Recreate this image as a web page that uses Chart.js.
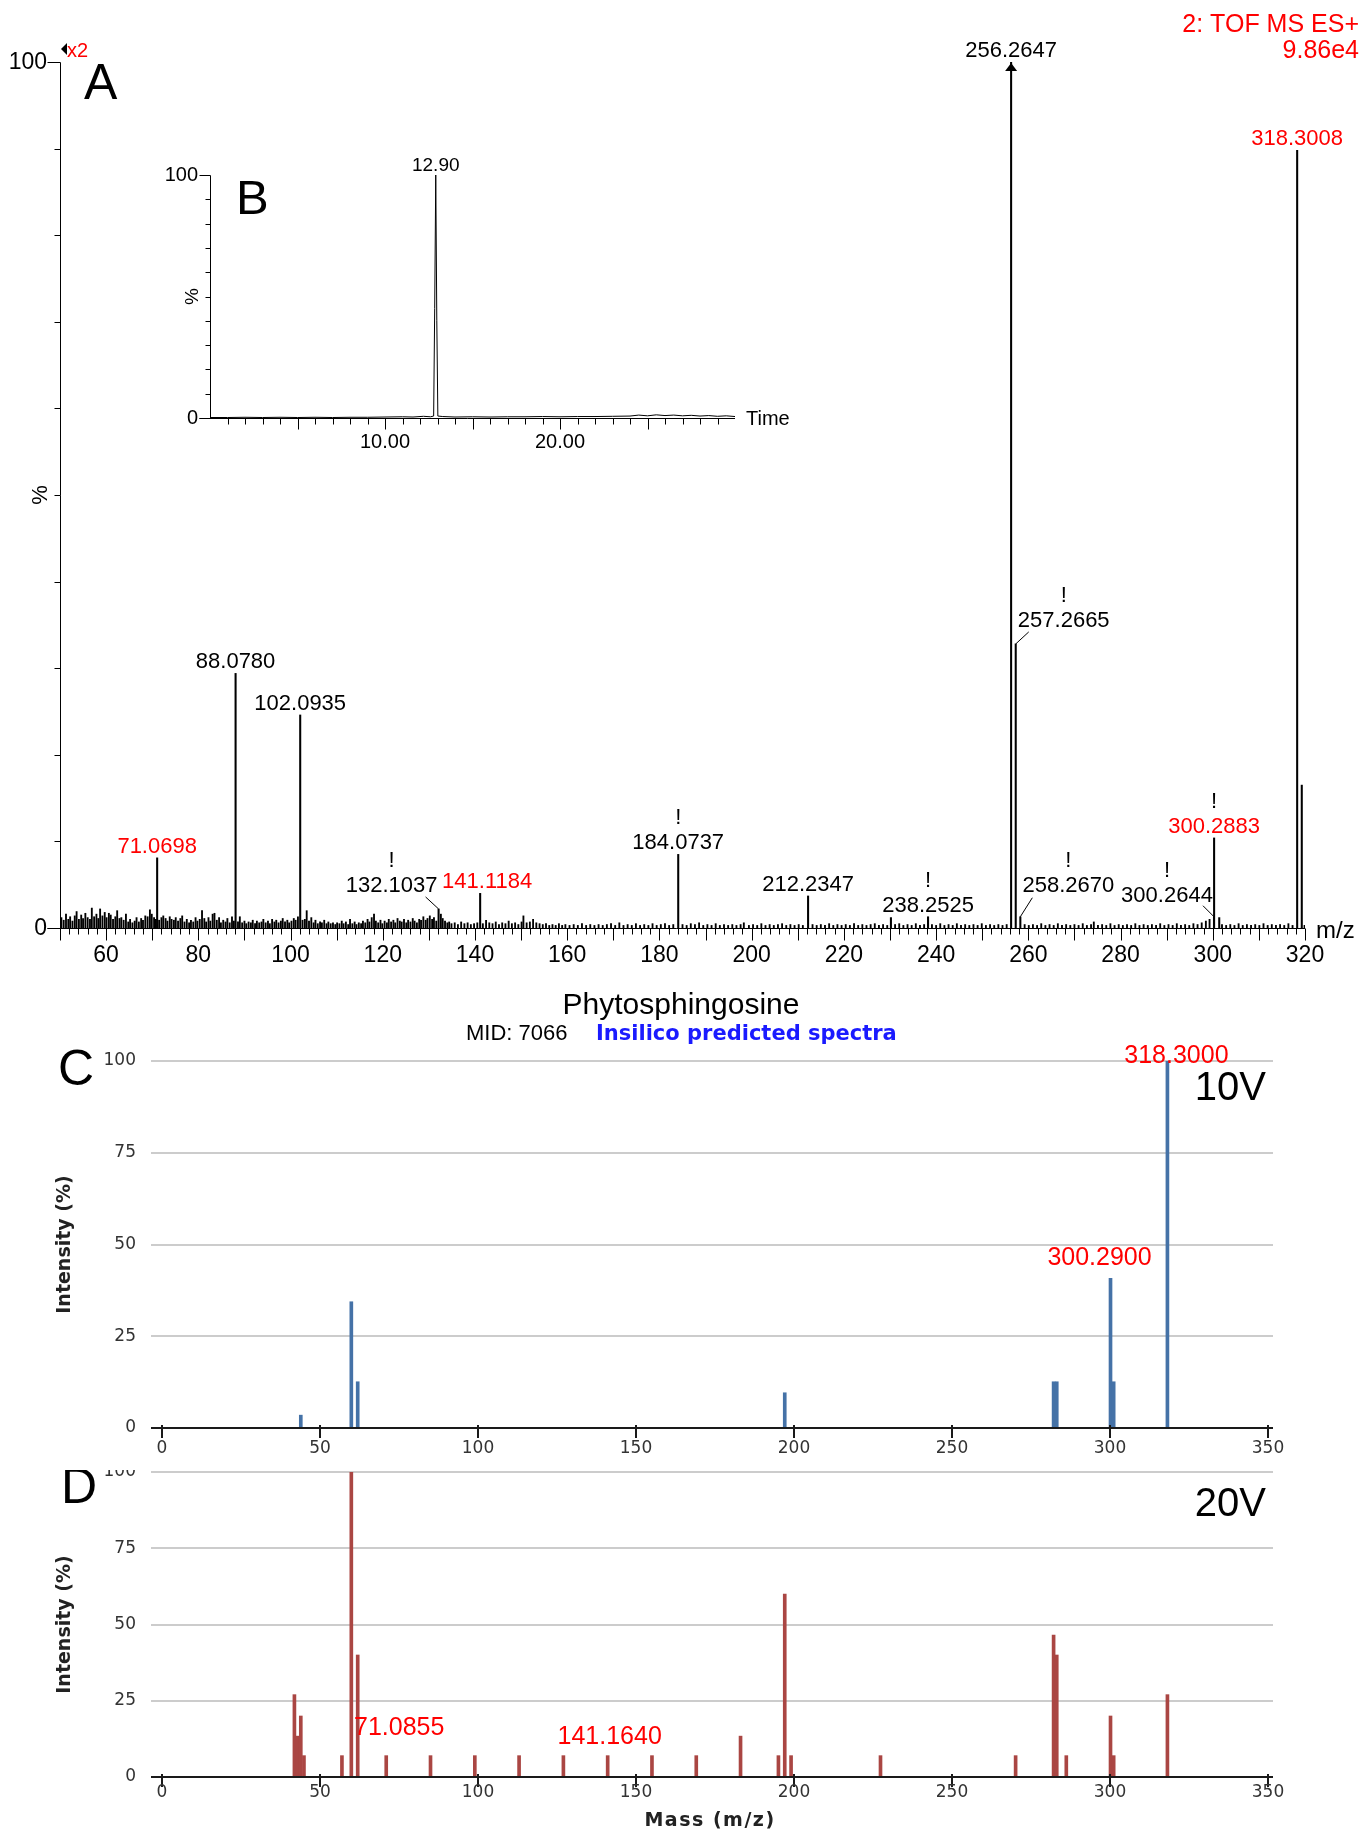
<!DOCTYPE html>
<html><head><meta charset="utf-8">
<script src="https://cdn.jsdelivr.net/npm/chart.js@4.4.1/dist/chart.umd.min.js"></script>
<style>
html,body{margin:0;padding:0;background:#fff;}
body{width:1366px;height:1832px;position:relative;overflow:hidden;}
canvas{position:absolute;}
</style></head><body>
<canvas id="cA" style="left:0px;top:0px" width="1366" height="965"></canvas>
<canvas id="cB" style="left:0px;top:0px" width="800" height="470"></canvas>
<canvas id="cC" style="left:0px;top:975px" width="1366" height="490"></canvas>
<canvas id="cD" style="left:0px;top:1470px" width="1366" height="362"></canvas>
<script>
// ---------------- DATA ----------------
// Panel A: labelled / major peaks (m/z, % of full scale)
const aPeakMz  = [71.0698, 88.0780, 102.0935, 132.1037, 141.1184, 184.0737, 212.2347, 230.2, 238.2525, 256.2647, 257.2665, 258.2670, 300.2644, 300.2883, 301.4, 318.3008, 319.3];
const aPeakInt = [8.1, 29.4, 24.6, 2.2, 4.0, 8.5, 3.7, 1.2, 1.3, 100, 32.8, 1.3, 1.3, 10.4, 1.2, 89.8, 16.5];
// Panel A: baseline noise spikes [m/z, %]
const aNoise = [[50.3,1.2],[50.8,0.9],[51.3,1.6],[51.8,1.0],[52.2,1.3],[52.7,0.8],[53.2,1.4],[53.6,1.9],[54.1,1.0],[54.6,1.5],[55.0,1.1],[55.5,1.7],[56.0,1.2],[56.5,1.0],[56.9,2.3],[57.4,1.3],[57.9,1.6],[58.3,1.1],[58.7,2.2],[59.2,1.4],[59.7,1.8],[60.1,1.2],[60.6,1.7],[61.0,1.5],[61.5,1.0],[62.0,1.3],[62.4,2.0],[62.9,1.1],[63.3,1.2],[63.8,0.9],[64.3,1.6],[64.8,0.7],[65.2,1.0],[65.7,0.6],[66.2,0.8],[66.6,1.2],[67.1,0.7],[67.6,1.1],[68.0,0.9],[68.5,1.4],[69.0,1.3],[69.5,2.1],[69.9,1.6],[70.4,1.2],[70.8,1.0],[71.5,0.9],[72.0,1.2],[72.4,1.4],[72.9,1.1],[73.3,0.8],[73.8,1.3],[74.2,1.0],[74.7,0.9],[75.1,1.2],[75.6,0.8],[76.1,1.1],[76.5,1.4],[77.0,0.7],[77.5,1.0],[78.0,0.6],[78.4,0.9],[78.9,0.7],[79.4,1.2],[79.8,0.8],[80.3,1.0],[80.8,2.0],[81.3,1.1],[81.7,0.7],[82.2,1.2],[82.6,0.8],[83.1,1.6],[83.5,1.7],[84.0,0.9],[84.5,1.2],[84.9,0.6],[85.4,0.9],[85.9,0.7],[86.3,1.1],[86.8,0.6],[87.3,1.3],[87.7,0.8],[88.6,0.7],[89.0,1.3],[89.5,0.6],[90.0,0.8],[90.4,0.5],[90.9,0.7],[91.4,0.6],[91.8,0.9],[92.3,0.5],[92.7,0.8],[93.2,0.6],[93.7,0.7],[94.1,1.0],[94.6,0.6],[95.1,0.8],[95.5,0.5],[96.0,1.0],[96.5,0.7],[96.9,0.9],[97.4,0.6],[97.9,0.8],[98.3,1.1],[98.8,0.7],[99.3,0.9],[99.7,0.6],[100.2,0.8],[100.7,1.1],[101.1,0.9],[101.6,1.3],[102.6,0.9],[103.1,1.0],[103.5,2.0],[104.0,0.8],[104.5,1.2],[105.0,0.6],[105.4,0.9],[105.9,0.5],[106.4,0.7],[106.8,0.6],[107.3,0.9],[107.8,0.5],[108.2,0.7],[108.7,0.5],[109.2,0.6],[109.7,0.4],[110.1,0.6],[110.6,0.5],[111.1,0.8],[111.5,0.5],[112.0,0.7],[112.5,0.4],[112.9,1.0],[113.4,0.5],[113.9,0.7],[114.3,0.4],[114.8,0.6],[115.3,0.5],[115.7,0.8],[116.2,0.6],[116.7,1.0],[117.1,0.7],[117.6,1.2],[118.1,1.6],[118.5,0.8],[119.0,0.6],[119.5,0.9],[119.9,0.5],[120.4,0.8],[120.9,0.6],[121.3,1.0],[121.8,0.7],[122.3,0.9],[122.7,0.6],[123.2,1.1],[123.7,0.8],[124.1,0.7],[124.6,1.0],[125.1,0.6],[125.5,0.9],[126.0,0.7],[126.5,1.1],[126.9,0.8],[127.4,0.6],[127.9,1.0],[128.3,0.9],[128.8,1.3],[129.3,0.9],[129.7,1.1],[130.2,1.4],[130.7,1.0],[131.1,1.2],[131.6,0.8],[132.6,1.6],[133.0,1.1],[133.5,0.8],[134.0,0.6],[134.4,0.7],[134.9,0.5],
[135.6,0.6],[136.3,0.4],[137.0,0.7],[137.7,0.5],[138.4,0.6],[139.1,0.4],[139.8,0.5],[140.5,0.6],[141.7,0.5],[142.4,0.9],[143.1,0.6],[143.8,0.5],[144.5,0.7],[145.2,0.4],[145.9,0.6],[146.6,0.5],[147.3,0.8],[148.0,0.5],[148.7,0.6],[149.4,0.4],[150.1,0.7],[150.5,1.4],[151.2,0.6],[151.9,0.7],[152.6,1.0],[153.3,0.6],[154.0,0.5],[154.7,0.4],[155.4,0.5],[156.1,0.3],[156.8,0.4],[157.5,0.3],[158.2,0.5],[158.9,0.3],[159.6,0.4],
[160.5,0.3],[161.4,0.4],[162.3,0.3],[163.2,0.5],[164.1,0.3],[165.0,0.4],[165.9,0.3],[166.8,0.4],[167.7,0.3],[168.6,0.4],[169.5,0.5],[170.4,0.3],[171.3,0.6],[172.2,0.3],[173.1,0.4],[174.0,0.3],[174.9,0.5],[175.8,0.3],[176.7,0.4],[177.6,0.3],[178.5,0.5],[179.4,0.3],[180.3,0.4],[181.2,0.5],[182.1,0.3],[183.0,0.4],[185.0,0.4],[185.9,0.3],[186.8,0.5],[187.7,0.4],[188.6,0.6],[189.5,0.3],[190.4,0.4],[191.3,0.3],[192.2,0.5],[193.1,0.3],[194.0,0.4],[194.9,0.3],[195.8,0.4],[196.7,0.3],[197.6,0.4],[198.3,0.6],[199.4,0.3],[200.3,0.4],[201.2,0.3],[202.1,0.5],[203.0,0.3],[203.9,0.4],[204.8,0.3],[205.7,0.4],[206.6,0.5],[207.5,0.3],[208.4,0.4],[209.3,0.3],[210.2,0.4],[211.1,0.3],[213.2,0.4],[214.1,0.3],[215.0,0.4],[215.9,0.3],[216.8,0.5],[217.7,0.3],[218.6,0.4],[219.5,0.3],[220.4,0.4],[221.3,0.3],[222.2,0.5],[223.1,0.3],[224.0,0.4],[224.9,0.3],[225.8,0.4],[226.7,0.5],[227.6,0.3],[228.5,0.4],[229.4,0.3],[231.1,0.4],[232.0,0.5],[232.9,0.3],[233.8,0.4],[234.7,0.3],[235.6,0.5],[236.5,0.3],[237.4,0.4],[239.1,0.4],[240.0,0.3],[240.9,0.5],[241.8,0.3],[242.7,0.4],[243.6,0.3],[244.5,0.5],[245.4,0.3],[246.3,0.4],[247.2,0.3],[248.1,0.4],[249.0,0.3],[249.9,0.5],[250.8,0.3],[251.7,0.4],[252.6,0.3],[253.5,0.4],[254.4,0.3],[255.3,0.4],[259.2,0.4],[260.1,0.3],[261.0,0.4],[261.9,0.3],[262.8,0.5],[263.7,0.3],[264.6,0.4],[265.5,0.3],[266.4,0.5],[267.3,0.3],[268.2,0.4],[269.1,0.3],[270.0,0.4],[270.9,0.3],[271.8,0.5],[272.7,0.3],[273.6,0.4],[274.2,0.7],[275.1,0.3],[276.0,0.4],[276.9,0.3],[277.8,0.5],[278.7,0.3],[279.6,0.4],[280.5,0.3],[281.4,0.4],[282.3,0.3],[283.2,0.5],[284.1,0.3],[285.0,0.4],[285.9,0.3],[286.8,0.4],[287.7,0.3],[288.6,0.5],[289.5,0.3],[290.4,0.4],[291.3,0.3],[292.2,0.5],[293.1,0.3],[294.0,0.4],[294.9,0.3],[295.8,0.5],[296.7,0.4],[297.6,0.6],[298.5,0.8],[299.3,1.0],[302.0,0.4],[302.9,0.3],[303.8,0.4],[304.7,0.3],[305.6,0.5],[306.5,0.3],[307.4,0.4],[308.3,0.3],[309.2,0.4],[310.1,0.3],[311.0,0.5],[311.9,0.3],[312.8,0.4],[313.7,0.3],[314.6,0.4],[315.5,0.3],[316.4,0.5],[317.3,0.3],[319.9,0.3]];
const aXTicks = [60,80,100,120,140,160,180,200,220,240,260,280,300,320];

// Panel B: chromatogram (time in min, %)
const bTime = [0,1,2,3,4,5,6,7,8,9,10,11,11.6,12.2,12.6,12.78,12.84,12.9,12.96,13.02,13.3,14,15,16,17,18,19,20,21,22,23,24,24.5,25,25.5,26,26.5,27,27.5,28,28.5,29,29.5,30];
const bInt  = [0.2,0.2,0.3,0.2,0.3,0.2,0.3,0.2,0.3,0.3,0.4,0.5,0.4,0.7,0.5,0.8,45,100,40,0.8,0.6,0.4,0.5,0.4,0.5,0.5,0.6,0.5,0.6,0.6,0.7,0.8,1.2,0.9,1.3,1.0,1.2,0.9,1.1,0.8,1.0,0.7,0.9,0.6];
const bXTicks = [10,20];

// Panel C: in-silico 10V
const cMz  = [44.05, 60.04, 62.06, 197.2, 282.28, 283.28, 300.29, 301.29, 318.30];
const cInt = [3.5, 34.4, 12.6, 9.6, 12.6, 12.6, 40.8, 12.6, 100];
// Panel D: in-silico 20V
const dMz  = [42.03, 43.05, 44.05, 45.05, 57.07, 60.04, 62.06, 71.0855, 85.10, 99.12, 113.13, 127.15, 141.164, 155.18, 169.20, 183.21, 195.2, 197.2, 199.2, 227.5, 270.26, 282.28, 283.28, 286.3, 300.29, 301.29, 318.30];
const dInt = [27, 13.4, 20, 7, 7, 100, 40, 7, 7, 7, 7, 7, 7, 7, 7, 13.4, 7, 60, 7, 7, 7, 46.5, 40, 7, 20, 7, 27];
const cdXTicks = [0,50,100,150,200,250,300,350];
const cdYTicks = [0,25,50,75,100];

// ---------------- STYLE ----------------
const SANS = '"Liberation Sans", Arial, sans-serif';
const DJV = '"DejaVu Sans", Verdana, sans-serif';
const RED = '#ff0000';
const aLabelStyle = {
  '71.0698': {color:RED},
  '88.0780': {},
  '102.0935': {},
  '132.1037': {bang:true, dx:-47, dy:-17, lx:-13, ly:-12},
  '141.1184': {color:RED, dx:7},
  '184.0737': {bang:true},
  '212.2347': {},
  '238.2525': {bang:true},
  '256.2647': {arrow:true},
  '257.2665': {bang:true, dx:48, dy:-17, lx:13, ly:-12},
  '258.2670': {bang:true, dx:48, dy:-25, lx:12, ly:-19},
  '300.2644': {bang:true, dx:-47, dy:-15, lx:-11, ly:-11},
  '300.2883': {color:RED, bang:true},
  '318.3008': {color:RED}
};
// keyed by m/z rounded to 2 decimals
const cLabelStyle = {'300.29':{text:'300.2900', dx:-11, dy:-13}, '318.30':{text:'318.3000', dx:9, dy:2}};
const dLabelStyle = {'71.09':{text:'71.0855', dx:13, dy:-21}, '141.16':{text:'141.1640', dx:2, dy:-12}};

function T(ctx, s, x, y, font, color, align, base){
  ctx.save(); ctx.font=font; ctx.fillStyle=color||'#000';
  ctx.textAlign=align||'left'; ctx.textBaseline=base||'alphabetic';
  ctx.fillText(s,x,y); ctx.restore();
}
function TR(ctx, s, x, y, font, color){
  ctx.save(); ctx.translate(x,y); ctx.rotate(-Math.PI/2);
  ctx.font=font; ctx.fillStyle=color||'#000'; ctx.textAlign='center'; ctx.textBaseline='middle';
  ctx.fillText(s,0,0); ctx.restore();
}
function L(ctx, x1,y1,x2,y2, w, c){
  ctx.save(); ctx.beginPath(); ctx.lineWidth=w||1; ctx.strokeStyle=c||'#000';
  ctx.moveTo(x1,y1); ctx.lineTo(x2,y2); ctx.stroke(); ctx.restore();
}
const base = {responsive:false, animation:false, devicePixelRatio:1, events:[],
  plugins:{legend:{display:false}, tooltip:{enabled:false}}};

// ---------------- PANEL A ----------------
const plugA = {id:'pa', afterDatasetsDraw(chart){
  const ctx=chart.ctx, xs=chart.scales.x, ys=chart.scales.y;
  const y0=Math.round(ys.getPixelForValue(0))+0.5, y100=Math.round(ys.getPixelForValue(100))+0.5;
  const xL=Math.round(xs.getPixelForValue(50))+0.5, xR=xs.getPixelForValue(320);
  L(ctx,xL,y100,xL,y0);
  for(let v=0; v<=100; v+=10){
    const yy=Math.round(ys.getPixelForValue(v))+0.5;
    const len=(v===0||v===100)?13:6;
    L(ctx,xL-len,yy,xL,yy);
  }
  T(ctx,'100',47,y100,'23px '+SANS,'#000','right','middle');
  T(ctx,'0',47,y0,'23px '+SANS,'#000','right','middle');
  TR(ctx,'%',41,ys.getPixelForValue(50),'22px '+SANS,'#000');
  L(ctx,xL-13,y0,xR,y0);
  for(let m=50; m<=320; m+=2){
    const xx=Math.round(xs.getPixelForValue(m))+0.5;
    L(ctx,xx,y0,xx,y0+(m%10===0?12:6));
  }
  aXTicks.forEach(v=>T(ctx,String(v),xs.getPixelForValue(v),y0+27,'23px '+SANS,'#000','center','middle'));
  T(ctx,'m/z',1316,938,'24px '+SANS,'#000','left','alphabetic');
  // peak labels
  aPeakMz.forEach((m,i)=>{
    const key=m.toFixed(4), st=aLabelStyle[key]; if(!st) return;
    const px=xs.getPixelForValue(m), top=ys.getPixelForValue(aPeakInt[i]);
    if(st.arrow){
      ctx.save(); ctx.fillStyle='#000'; ctx.beginPath();
      ctx.moveTo(px,top+1); ctx.lineTo(px-6,top+9); ctx.lineTo(px+6,top+9); ctx.closePath(); ctx.fill(); ctx.restore();
    }
    if(st.lx!==undefined) L(ctx,px,top,px+st.lx,top+st.ly,1,'#000');
    const cx=px+(st.dx||0), by=top+(st.dy!==undefined?st.dy:-5);
    T(ctx,key,cx,by,'22px '+SANS,st.color||'#000','center','alphabetic');
    if(st.bang) T(ctx,'!',cx,by-25,'22px '+SANS,'#000','center','alphabetic');
  });
  // panel letters / headers
  T(ctx,'A',84,99,'50px '+SANS,'#000');
  ctx.save(); ctx.fillStyle='#000'; ctx.beginPath(); ctx.moveTo(61,49); ctx.lineTo(67,43); ctx.lineTo(67,55); ctx.closePath(); ctx.fill(); ctx.restore();
  T(ctx,'x2',67,57,'20px '+SANS,RED);
  T(ctx,'2: TOF MS ES+',1359,32,'25px '+SANS,RED,'right');
  T(ctx,'9.86e4',1359,58,'25px '+SANS,RED,'right');
}};
new Chart(document.getElementById('cA'),{
  type:'bar',
  data:{datasets:[
    {data:aPeakMz.map((m,i)=>({x:m,y:aPeakInt[i]})), backgroundColor:'#000', borderWidth:0, barThickness:1.4},
    {data:aNoise.map(p=>({x:p[0],y:p[1]})), backgroundColor:'#000', borderWidth:0, barThickness:1.2}
  ]},
  options:Object.assign({}, base, {
    layout:{padding:{left:60,right:61,top:62,bottom:37}},
    scales:{x:{type:'linear',min:50,max:320,display:false,offset:false,stacked:true},
            y:{min:0,max:100,display:false,stacked:false}}
  }),
  plugins:[plugA]
});

// ---------------- PANEL B ----------------
const plugB = {id:'pb', afterDatasetsDraw(chart){
  const ctx=chart.ctx, xs=chart.scales.x, ys=chart.scales.y;
  const y0=Math.round(ys.getPixelForValue(0))+0.5, y100=Math.round(ys.getPixelForValue(100))+0.5;
  const xL=Math.round(xs.getPixelForValue(0))+0.5, xR=xs.getPixelForValue(30);
  L(ctx,xL,y100,xL,y0);
  for(let v=0; v<=100; v+=10){
    const yy=Math.round(ys.getPixelForValue(v))+0.5;
    L(ctx,xL-((v===0||v===100)?11:5),yy,xL,yy);
  }
  L(ctx,xL-11,y0,xR,y0);
  for(let t=1; t<=29; t+=1){
    const xx=Math.round(xs.getPixelForValue(t))+0.5;
    L(ctx,xx,y0,xx,y0+(t%5===0?11:6));
  }
  T(ctx,'100',198,y100,'20px '+SANS,'#000','right','middle');
  T(ctx,'0',198,y0,'20px '+SANS,'#000','right','middle');
  TR(ctx,'%',193,ys.getPixelForValue(50),'19px '+SANS,'#000');
  bXTicks.forEach(v=>T(ctx,v.toFixed(2),xs.getPixelForValue(v),y0+24,'20px '+SANS,'#000','center','middle'));
  T(ctx,'Time',746,y0+1,'20px '+SANS,'#000','left','middle');
  let mi=0; bInt.forEach((v,i)=>{ if(v>bInt[mi]) mi=i; });
  T(ctx,bTime[mi].toFixed(2),xs.getPixelForValue(bTime[mi]),ys.getPixelForValue(bInt[mi])-4,'19px '+SANS,'#000','center','alphabetic');
  T(ctx,'B',236,214,'49px '+SANS,'#000');
}};
new Chart(document.getElementById('cB'),{
  type:'line',
  data:{datasets:[{data:bTime.map((t,i)=>({x:t,y:bInt[i]})), borderColor:'#000', borderWidth:1, pointRadius:0, fill:false, tension:0}]},
  options:Object.assign({}, base, {
    layout:{padding:{left:210,right:65,top:175,bottom:52}},
    scales:{x:{type:'linear',min:0,max:30,display:false},y:{min:0,max:100,display:false}}
  }),
  plugins:[plugB]
});

// ---------------- PANELS C / D ----------------
function cdPlugin(opts){
  return {id:'p'+opts.letter,
    beforeDatasetsDraw(chart){
      const ctx=chart.ctx, ys=chart.scales.y, ca=chart.chartArea;
      cdYTicks.forEach(v=>{ if(v===0) return;
        const yy=Math.round(ys.getPixelForValue(v));
        L(ctx,ca.left,yy,ca.right,yy,2,'#cccccc');
      });
    },
    afterDatasetsDraw(chart){
      const ctx=chart.ctx, xs=chart.scales.x, ys=chart.scales.y, ca=chart.chartArea;
      const y0=Math.round(ys.getPixelForValue(0));
      L(ctx,ca.left,y0,ca.right,y0,2,'#1a1a1a');
      cdXTicks.forEach(v=>{
        const xx=Math.round(xs.getPixelForValue(v));
        L(ctx,xx,y0-3,xx,y0+10,2,'#1a1a1a');
        T(ctx,String(v),xx,y0+opts.xLabOff,'17px '+DJV,'#333','center','middle');
      });
      cdYTicks.forEach(v=>T(ctx,String(v),136,ys.getPixelForValue(v),'17px '+DJV,'#333','right','middle'));
      TR(ctx,'Intensity (%)',65,ys.getPixelForValue(50),'bold 19px '+DJV,'#222');
      opts.mz.forEach((m,i)=>{
        const st=opts.labels[m.toFixed(2)]; if(!st) return;
        T(ctx,st.text,xs.getPixelForValue(m)+st.dx,ys.getPixelForValue(opts.int[i])+st.dy,'25px '+SANS,RED,'center','alphabetic');
      });
      T(ctx,opts.letter,opts.letterX,opts.letterY,'50px '+SANS,'#000');
      T(ctx,opts.volt,1266,opts.voltY,'40px '+SANS,'#000','right');
      if(opts.extra) opts.extra(ctx);
    }};
}
function cdChart(id, mz, inten, color, pad, plug){
  return new Chart(document.getElementById(id),{
    type:'bar',
    data:{datasets:[{data:mz.map((m,i)=>({x:m,y:inten[i]})), backgroundColor:color, borderWidth:0, barThickness:3}]},
    options:Object.assign({}, base, {
      layout:{padding:pad},
      scales:{x:{type:'linear',min:-3.354,max:351.71,display:false,offset:false},
              y:{min:0,max:100,display:false}}
    }),
    plugins:[plug]
  });
}
cdChart('cC', cMz, cInt, '#4572A7', {left:151,right:93,top:86,bottom:37},
  cdPlugin({letter:'C', letterX:58, letterY:110, volt:'10V', voltY:125, mz:cMz, int:cInt, labels:cLabelStyle, xLabOff:21,
    extra(ctx){
      T(ctx,'Phytosphingosine',681,39,'30px '+SANS,'#000','center');
      T(ctx,'MID: 7066',466,65,'22px '+SANS,'#000','left');
      T(ctx,'Insilico predicted spectra',596,65,'bold 21px '+DJV,'#1a1aff','left');
    }}));
cdChart('cD', dMz, dInt, '#AA4643', {left:151,right:93,top:2,bottom:55},
  cdPlugin({letter:'D', letterX:61, letterY:33, volt:'20V', voltY:46, mz:dMz, int:dInt, labels:dLabelStyle, xLabOff:16,
    extra(ctx){
      ctx.save(); ctx.letterSpacing='1.5px';
      T(ctx,'Mass (m/z)',710,356,'bold 19px '+DJV,'#222','center');
      ctx.restore();
    }}));
</script>
</body></html>
